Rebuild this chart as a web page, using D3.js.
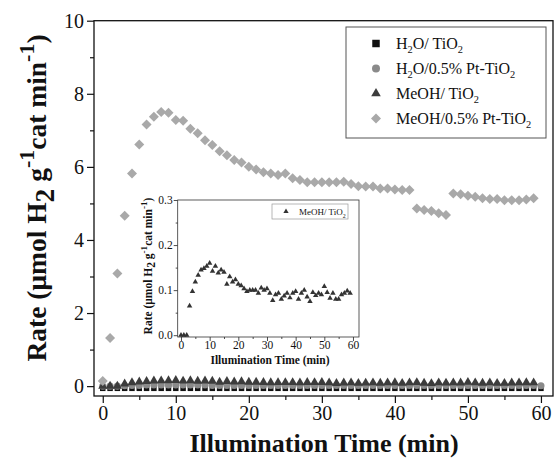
<!DOCTYPE html>
<html>
<head>
<meta charset="utf-8">
<script src="https://cdn.jsdelivr.net/npm/d3@7"></script>
<style>
  body { margin: 0; background: #fff; }
  text { font-family: "Liberation Serif", "Times New Roman", serif; fill: #111; }
</style>
</head>
<body>
<svg id="chart" width="557" height="462"></svg>
<script>
// Rate (umol H2 g-1 cat min-1), one reading per minute starting at t = 0
const h2oTiO2 = [
  -0.06, -0.06, -0.06, -0.06, -0.06, -0.06, -0.06, -0.06, -0.06, -0.06,
  -0.06, -0.06, -0.06, -0.06, -0.06, -0.06, -0.06, -0.06, -0.06, -0.06,
  -0.06, -0.06, -0.06, -0.06, -0.06, -0.06, -0.06, -0.06, -0.06, -0.06,
  -0.06, -0.06, -0.06, -0.06, -0.06, -0.06, -0.06, -0.06, -0.06, -0.06,
  -0.06, -0.06, -0.06, -0.06, -0.06, -0.06, -0.06, -0.06, -0.06, -0.06,
  -0.06, -0.06, -0.06, -0.06, -0.06, -0.06, -0.06, -0.06, -0.06, -0.06, -0.06
];
const h2oPtTiO2 = [
  0.00, 0.00, 0.00, 0.01, 0.02, 0.02, 0.03, 0.03, 0.03, 0.03,
  0.03, 0.03, 0.03, 0.03, 0.03, 0.02, 0.02, 0.02, 0.02, 0.02,
  0.02, 0.02, 0.02, 0.02, 0.02, 0.02, 0.02, 0.02, 0.02, 0.02,
  0.02, 0.02, 0.02, 0.02, 0.02, 0.02, 0.02, 0.02, 0.02, 0.02,
  0.02, 0.02, 0.02, 0.02, 0.02, 0.02, 0.02, 0.02, 0.02, 0.02,
  0.02, 0.02, 0.02, 0.02, 0.02, 0.02, 0.02, 0.02, 0.02, 0.02, 0.01
];
const meohTiO2 = [
  0.000, 0.000, 0.000, 0.065, 0.097, 0.118, 0.133, 0.145, 0.148, 0.153,
  0.160, 0.142, 0.153, 0.138, 0.145, 0.140, 0.113, 0.130, 0.118, 0.123,
  0.113, 0.110, 0.103, 0.097, 0.100, 0.100, 0.100, 0.093, 0.105, 0.100,
  0.103, 0.093, 0.077, 0.090, 0.093, 0.080, 0.087, 0.093, 0.083, 0.093,
  0.097, 0.080, 0.093, 0.100, 0.085, 0.075, 0.095, 0.088, 0.093, 0.090,
  0.108, 0.095, 0.082, 0.093, 0.080, 0.080, 0.090, 0.093, 0.098, 0.093
];
const meohPtTiO2 = [
  0.14, 1.32, 3.08, 4.66, 5.82, 6.61, 7.16, 7.37, 7.50, 7.48,
  7.28, 7.26, 7.04, 6.92, 6.73, 6.60, 6.43, 6.32, 6.19, 6.12,
  6.00, 5.93, 5.85, 5.82, 5.78, 5.82, 5.69, 5.64, 5.58, 5.58,
  5.58, 5.58, 5.58, 5.59, 5.53, 5.47, 5.46, 5.46, 5.41, 5.41,
  5.38, 5.37, 5.37, 4.86, 4.82, 4.79, 4.73, 4.68, 5.27, 5.25,
  5.21, 5.18, 5.14, 5.12, 5.12, 5.09, 5.09, 5.09, 5.11, 5.14
];

const xTicks = [0, 10, 20, 30, 40, 50, 60];
const xMinor = [5, 15, 25, 35, 45, 55];
const yTicks = [0, 2, 4, 6, 8, 10];
const yMinor = [1, 3, 5, 7, 9];
const insetYTicks = [0, 0.1, 0.2, 0.3];
const insetYMinor = [0.05, 0.15, 0.25];

const svg = d3.select("#chart");

// ---- main plot ----
const x = d3.scaleLinear().domain([-1.2, 61.65]).range([94, 553]);
const y = d3.scaleLinear().domain([-0.27, 10]).range([396, 20.7]);

// square turned 45 degrees, like the Origin diamond marker
const diamond = {
  draw(ctx, size) {
    const r = Math.sqrt(size / 2);
    ctx.moveTo(0, -r); ctx.lineTo(r, 0); ctx.lineTo(0, r); ctx.lineTo(-r, 0); ctx.closePath();
  }
};

const series = [
  { name: "H2O/ TiO2", values: h2oTiO2, sym: d3.symbolSquare, size: 30, legSize: 56, color: "#111" },
  { name: "H2O/0.5% Pt-TiO2", values: h2oPtTiO2, sym: d3.symbolCircle, size: 40, legSize: 50, color: "#8a8a8a" },
  { name: "MeOH/ TiO2", values: meohTiO2, sym: d3.symbolTriangle, size: 36, legSize: 40, color: "#3c3c3c" },
  { name: "MeOH/0.5% Pt-TiO2", values: meohPtTiO2, sym: diamond, size: 50, legSize: 50, color: "#a9a9a9" }
];

function axisStyle(g) {
  g.select(".domain").remove();
  g.selectAll("line").attr("stroke", "#111").attr("stroke-width", 1.2);
  g.selectAll("text").attr("fill", "#111").style("font-family", '"Liberation Serif", serif');
}

svg.append("g").attr("transform", "translate(0,396)")
  .call(d3.axisBottom(x).tickValues(xTicks).tickSize(7).tickPadding(3))
  .call(axisStyle)
  .selectAll("text").style("font-size", "20px");
svg.append("g").attr("transform", "translate(0,396)")
  .call(d3.axisBottom(x).tickValues(xMinor).tickSize(4).tickFormat(""))
  .call(axisStyle);
svg.append("g").attr("transform", "translate(94,0)")
  .call(d3.axisLeft(y).tickValues(yTicks).tickSize(7).tickPadding(3))
  .call(axisStyle)
  .selectAll("text").style("font-size", "20px");
svg.append("g").attr("transform", "translate(94,0)")
  .call(d3.axisLeft(y).tickValues(yMinor).tickSize(4).tickFormat(""))
  .call(axisStyle);

const marks = svg.append("g");
series.forEach(s => {
  marks.append("g").selectAll("path")
    .data(s.values)
    .join("path")
    .attr("transform", (d, i) => `translate(${x(i)},${y(d)})`)
    .attr("d", d3.symbol(s.sym, s.size))
    .attr("fill", s.color);
});

svg.append("rect")
  .attr("x", 94).attr("y", 20.7).attr("width", 553 - 94).attr("height", 396 - 20.7)
  .attr("fill", "none").attr("stroke", "#111").attr("stroke-width", 1.3);

// legend
const leg = svg.append("g");
leg.append("rect").attr("x", 346).attr("y", 27).attr("width", 200).attr("height", 111)
  .attr("fill", "#fff").attr("stroke", "#555").attr("stroke-width", 1);
function chemLabel(t, parts, fs) {
  parts.forEach(p => {
    const ts = t.append("tspan").text(p[0]);
    if (p[1] === "sub") ts.attr("font-size", fs * 0.65).attr("dy", fs * 0.3);
    if (p[1] === "back") ts.attr("dy", -fs * 0.3);
  });
}
const legParts = [
  [["H"], ["2", "sub"], ["O/ TiO", "back"], ["2", "sub"]],
  [["H"], ["2", "sub"], ["O/0.5% Pt-TiO", "back"], ["2", "sub"]],
  [["MeOH/ TiO"], ["2", "sub"]],
  [["MeOH/0.5% Pt-TiO"], ["2", "sub"]]
];
series.forEach((s, i) => {
  const cy = 43.5 + i * 25;
  leg.append("path").attr("transform", `translate(376,${cy})`)
    .attr("d", d3.symbol(s.sym, s.legSize)).attr("fill", s.color);
  const t = leg.append("text").attr("x", 396).attr("y", cy + 5).style("font-size", "16px");
  chemLabel(t, legParts[i], 16);
});

// axis titles
svg.append("text").attr("x", 324).attr("y", 452).attr("text-anchor", "middle")
  .style("font-size", "26px").style("font-weight", "bold").text("Illumination Time (min)");

function rateTitle(g, fs) {
  const t = g.append("text").attr("text-anchor", "middle").style("font-weight", "bold").style("font-size", fs + "px");
  t.append("tspan").text("Rate (\u03bcmol H");
  t.append("tspan").text("2").attr("dy", fs * 0.3);
  t.append("tspan").text(" g").attr("dy", -fs * 0.3);
  t.append("tspan").text("-1").attr("font-size", fs * 0.8).attr("dy", -fs * 0.45);
  t.append("tspan").text("cat min").attr("dy", fs * 0.45);
  t.append("tspan").text("-1").attr("font-size", fs * 0.8).attr("dy", -fs * 0.45);
  t.append("tspan").text(")").attr("dy", fs * 0.45);
  return t;
}
rateTitle(svg.append("g").attr("transform", "translate(46,198) rotate(-90)"), 27.5);

// ---- inset ----
const xi = d3.scaleLinear().domain([-1.15, 62.1]).range([177.7, 359]);
const yi = d3.scaleLinear().domain([-0.004, 0.3]).range([337, 200]);
const inset = svg.append("g");
inset.append("rect").attr("x", 177.7).attr("y", 200).attr("width", 359 - 177.7).attr("height", 137)
  .attr("fill", "#fff");

function insetAxisStyle(g) {
  g.select(".domain").remove();
  g.selectAll("line").attr("stroke", "#222").attr("stroke-width", 0.8);
  g.selectAll("text").attr("fill", "#111").style("font-family", '"Liberation Serif", serif').style("font-size", "11.5px");
}
inset.append("g").attr("transform", "translate(0,337)")
  .call(d3.axisBottom(xi).tickValues(xTicks).tickSize(4).tickPadding(0))
  .call(insetAxisStyle);
inset.append("g").attr("transform", "translate(0,337)")
  .call(d3.axisBottom(xi).tickValues(xMinor).tickSize(2).tickFormat(""))
  .call(insetAxisStyle);
inset.append("g").attr("transform", "translate(177.7,0)")
  .call(d3.axisLeft(yi).tickValues(insetYTicks).tickSize(4).tickPadding(1).tickFormat(d3.format(".1f")))
  .call(insetAxisStyle);
inset.append("g").attr("transform", "translate(177.7,0)")
  .call(d3.axisLeft(yi).tickValues(insetYMinor).tickSize(2).tickFormat(""))
  .call(insetAxisStyle);

inset.append("g").selectAll("path")
  .data(meohTiO2)
  .join("path")
  .attr("transform", (d, i) => `translate(${xi(i)},${yi(d)})`)
  .attr("d", d3.symbol(d3.symbolTriangle, 13))
  .attr("fill", "#333");

inset.append("rect").attr("x", 177.7).attr("y", 200).attr("width", 359 - 177.7).attr("height", 137)
  .attr("fill", "none").attr("stroke", "#333").attr("stroke-width", 0.8);

inset.append("rect").attr("x", 272).attr("y", 204).attr("width", 76).attr("height", 15)
  .attr("fill", "#fff").attr("stroke", "#999").attr("stroke-width", 0.7);
inset.append("path").attr("transform", "translate(286,211.5)")
  .attr("d", d3.symbol(d3.symbolTriangle, 12)).attr("fill", "#333");
const it = inset.append("text").attr("x", 299).attr("y", 215).style("font-size", "9px");
chemLabel(it, legParts[2], 9);

inset.append("text").attr("x", 270).attr("y", 364).attr("text-anchor", "middle")
  .style("font-size", "11.5px").style("font-weight", "bold").text("Illumination Time (min)");
rateTitle(inset.append("g").attr("transform", "translate(152,266) rotate(-90)"), 11.5);
</script>
</body>
</html>
